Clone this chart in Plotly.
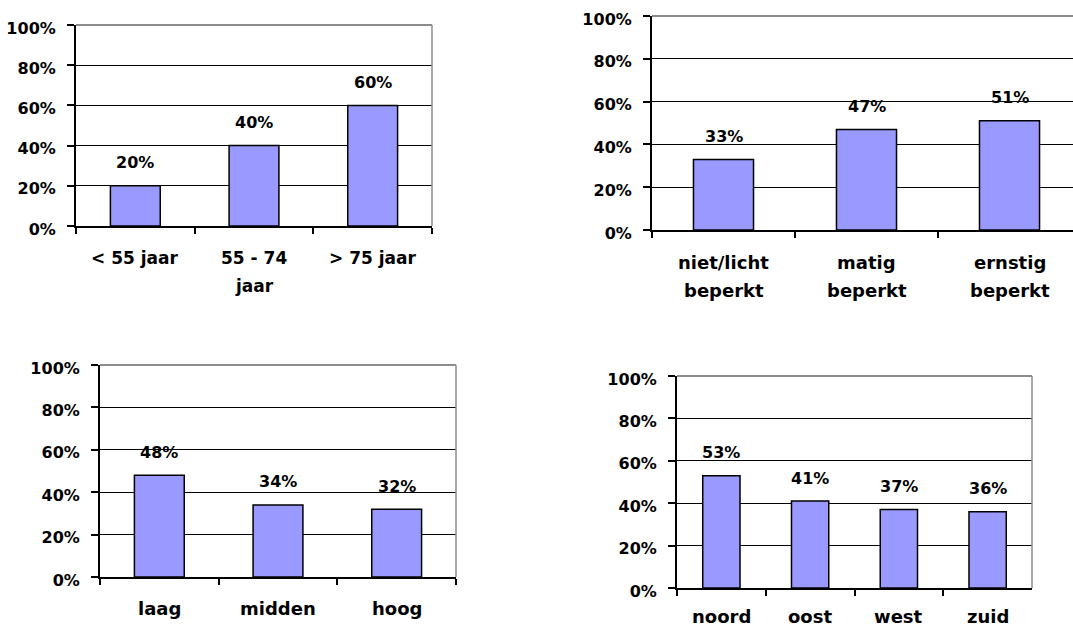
import plotly.graph_objects as go

# ---- data ----
cats_age = ["< 55 jaar", "55 - 74<br>jaar", "> 75 jaar"]
vals_age = [0.20, 0.40, 0.60]

cats_limit = ["niet/licht<br>beperkt", "matig<br>beperkt", "ernstig<br>beperkt"]
vals_limit = [0.33, 0.47, 0.51]

cats_edu = ["laag", "midden", "hoog"]
vals_edu = [0.48, 0.34, 0.32]

cats_region = ["noord", "oost", "west", "zuid"]
vals_region = [0.53, 0.41, 0.37, 0.36]

W, H = 1073, 628
FONT = "DejaVu Sans"
BAR = "#9999FF"

# panel geometry in pixels:
# (left, right, bottom(0%), top(100%), x-range end, xlabel size, xlabel line offsets)
panels = [
    (cats_age, vals_age, 76, 432, 226, 25, None, 17, [32, 60]),
    (cats_limit, vals_limit, 652, 1073, 230, 16, 2.444, 18, [32, 60]),
    (cats_edu, vals_edu, 100, 456, 577, 365, None, 18, [31]),
    (cats_region, vals_region, 677, 1032, 588, 376, None, 18, [28]),
]

fig = go.Figure()
layout = dict(
    width=W, height=H,
    margin=dict(l=0, r=0, t=0, b=0, autoexpand=False),
    paper_bgcolor="white", plot_bgcolor="white",
    showlegend=False,
    font=dict(family=FONT, size=16, color="black"),
)
annotations = []
shapes = []

for i, (cats, vals, xl, xr, yb, yt, xend, xfs, offs) in enumerate(panels):
    n = i + 1
    xa = "x" if n == 1 else f"x{n}"
    ya = "y" if n == 1 else f"y{n}"
    fig.add_trace(go.Bar(
        x=cats, y=vals, xaxis=xa, yaxis=ya,
        marker=dict(color=BAR, line=dict(color="black", width=1.5)),
        width=0.42, hoverinfo="skip",
    ))
    rng_end = xend if xend is not None else len(cats) - 0.5
    xkey = "xaxis" if n == 1 else f"xaxis{n}"
    ykey = "yaxis" if n == 1 else f"yaxis{n}"
    layout[xkey] = dict(
        domain=[xl / W, xr / W], anchor=ya, type="category",
        range=[-0.5, rng_end], automargin=False,
        showline=True, linecolor="black", linewidth=2,
        ticks="outside", tickson="boundaries", ticklen=6, tickwidth=1.5, tickcolor="black",
        showticklabels=False,
        showgrid=False, zeroline=False, fixedrange=True,
    )
    layout[ykey] = dict(
        domain=[1 - yb / H, 1 - yt / H], anchor=xa, automargin=False,
        range=[0, 1], dtick=0.2, tick0=0, tickformat=".0%",
        showline=True, linecolor="black", linewidth=2,
        ticks="outside", ticklen=7, tickwidth=1.5, tickcolor="black",
        tickfont=dict(family=FONT, size=16, color="black", weight="bold"),
        ticklabelstandoff=8, ticklabelshift=3,
        showgrid=True, gridcolor="black", gridwidth=1,
        zeroline=False, fixedrange=True,
    )
    # grey top and right border
    shapes.append(dict(type="line", xref=f"{xa} domain", yref=f"{ya} domain",
                       x0=0, x1=1, y0=1, y1=1, line=dict(color="#8c8c8c", width=2)))
    if xend is None:
        shapes.append(dict(type="line", xref=f"{xa} domain", yref=f"{ya} domain",
                           x0=1, x1=1, y0=0, y1=1, line=dict(color="#8c8c8c", width=1.5)))
    for c, v in zip(cats, vals):
        # value label above bar
        annotations.append(dict(
            x=c, y=v, xref=xa, yref=ya, text=f"{round(v * 100)}%",
            showarrow=False, yshift=23, yanchor="middle",
            font=dict(family=FONT, size=16, color="black", weight="bold"),
        ))
        # category label lines below axis
        for line, off in zip(c.split("<br>"), offs):
            annotations.append(dict(
                x=c, y=0, xref=xa, yref=ya, text=line,
                showarrow=False, yshift=-off, yanchor="middle",
                font=dict(family=FONT, size=xfs, color="black", weight="bold"),
            ))

layout["annotations"] = annotations
layout["shapes"] = shapes
fig.update_layout(**layout)
fig.write_html("out.html")
